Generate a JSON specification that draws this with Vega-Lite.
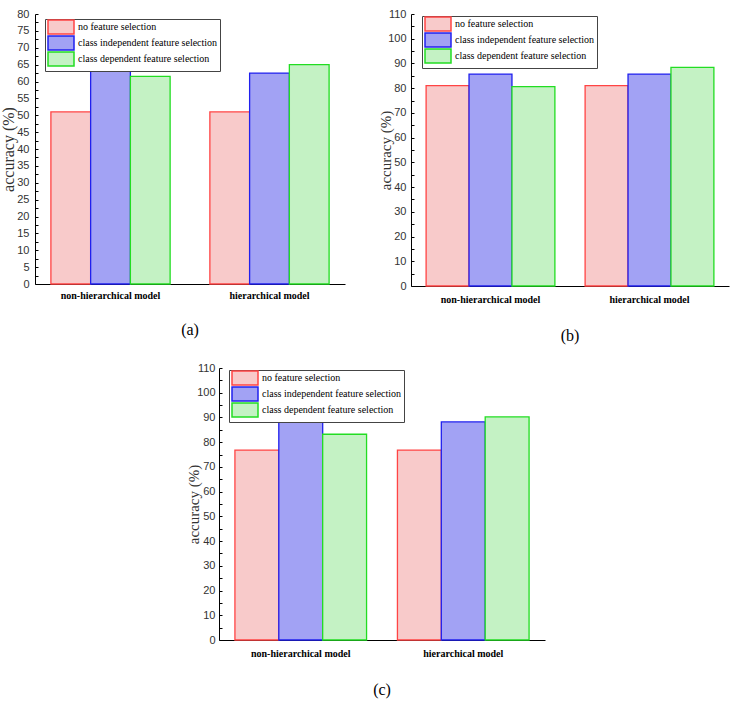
{
  "$schema": "https://vega.github.io/schema/vega-lite/v6.json",
  "padding": {"left": 0, "top": 8, "right": 1, "bottom": 4},
  "spacing": 18,
  "center": true,
  "resolve": {"scale": {"x": "independent", "xOffset": "independent", "fill": "independent", "stroke": "independent"}, "legend": {"fill": "independent", "stroke": "independent"}},
  "config": {
    "view": {"stroke": null},
    "axis": {"grid": false, "domainColor": "#000000", "domainWidth": 1},
    "legend": {
      "orient": "none",
      "strokeColor": "#444444",
      "strokeWidth": 1,
      "fillColor": "white",
      "padding": 2,
      "rowPadding": -4,
      "symbolType": "M-2.6,-1.4H2.6V1.4H-2.6Z",
      "symbolSize": 100,
      "symbolOffset": 8,
      "symbolStrokeWidth": 1.5,
      "labelFont": "Liberation Serif",
      "labelFontSize": 10,
      "labelColor": "#000000",
      "labelOffset": 11,
      "title": null
    },
    "title": {"font": "Liberation Serif", "fontSize": 16, "fontWeight": "normal", "color": "#000000"}
  },
  "vconcat": [
    {
      "hconcat": [
        {
          "width": 310,
          "height": 270,
          "title": {"text": "(a)", "orient": "bottom", "offset": 22, "anchor": "middle"},
          "data": {"values": [
            {"model": "non-hierarchical model", "series": "no feature selection", "accuracy": 51},
            {"model": "non-hierarchical model", "series": "class independent feature selection", "accuracy": 63},
            {"model": "non-hierarchical model", "series": "class dependent feature selection", "accuracy": 61.5},
            {"model": "hierarchical model", "series": "no feature selection", "accuracy": 51},
            {"model": "hierarchical model", "series": "class independent feature selection", "accuracy": 62.5},
            {"model": "hierarchical model", "series": "class dependent feature selection", "accuracy": 65}
          ]},
          "mark": {"type": "bar", "strokeWidth": 1.3},
          "encoding": {
            "x": {"field": "model", "type": "nominal", "sort": ["non-hierarchical model", "hierarchical model"],
              "scale": {"paddingInner": 0.25, "paddingOuter": 0.1},
              "axis": {"title": null, "ticks": false, "labelAngle": 0, "labelFont": "Liberation Serif", "labelFontWeight": "bold", "labelFontSize": 10, "labelColor": "#000000", "labelPadding": 6}},
            "xOffset": {"field": "series", "type": "nominal", "sort": ["no feature selection", "class independent feature selection", "class dependent feature selection"], "scale": {"paddingInner": 0, "paddingOuter": 0}},
            "y": {"field": "accuracy", "type": "quantitative", "scale": {"domain": [0, 80], "nice": false},
              "axis": {"title": "accuracy (%)", "values": [0,2.5,5,7.5,10,12.5,15,17.5,20,22.5,25,27.5,30,32.5,35,37.5,40,42.5,45,47.5,50,52.5,55,57.5,60,62.5,65,67.5,70,72.5,75,77.5,80],
                "labelExpr": "datum.value % 5 === 0 ? datum.label : ''", "tickSize": -3, "tickColor": "#000000", "labelPadding": 9,
                "labelFont": "Liberation Sans", "labelFontSize": 11, "labelColor": "#333333",
                "titleFont": "Liberation Serif", "titleFontSize": 16, "titleFontWeight": "normal", "titleColor": "#333333", "titlePadding": 0}},
            "fill": {"field": "series", "type": "nominal", "sort": ["no feature selection", "class independent feature selection", "class dependent feature selection"],
              "scale": {"range": ["#f8caca", "#a2a2f4", "#c4f2c4"]},
              "legend": {"legendX": 10, "legendY": 5, "encode": {"symbols": {"update": {
                "fill": {"signal": "datum.value === 'no feature selection' ? '#f8caca' : datum.value === 'class independent feature selection' ? '#a2a2f4' : '#c4f2c4'"},
                "stroke": {"signal": "datum.value === 'no feature selection' ? '#ff4444' : datum.value === 'class independent feature selection' ? '#2020ee' : '#22dd22'"}}}}}},
            "stroke": {"field": "series", "type": "nominal", "sort": ["no feature selection", "class independent feature selection", "class dependent feature selection"],
              "scale": {"range": ["#ff4444", "#2020ee", "#22dd22"]},
              "legend": null}
          }
        },
        {
          "width": 318,
          "height": 272,
          "title": {"text": "(b)", "orient": "bottom", "offset": 24, "anchor": "middle"},
          "data": {"values": [
            {"model": "non-hierarchical model", "series": "no feature selection", "accuracy": 81},
            {"model": "non-hierarchical model", "series": "class independent feature selection", "accuracy": 85.7},
            {"model": "non-hierarchical model", "series": "class dependent feature selection", "accuracy": 80.6},
            {"model": "hierarchical model", "series": "no feature selection", "accuracy": 81},
            {"model": "hierarchical model", "series": "class independent feature selection", "accuracy": 85.7},
            {"model": "hierarchical model", "series": "class dependent feature selection", "accuracy": 88.4}
          ]},
          "mark": {"type": "bar", "strokeWidth": 1.3},
          "encoding": {
            "x": {"field": "model", "type": "nominal", "sort": ["non-hierarchical model", "hierarchical model"],
              "scale": {"paddingInner": 0.19, "paddingOuter": 0.095},
              "axis": {"title": null, "ticks": false, "labelAngle": 0, "labelFont": "Liberation Serif", "labelFontWeight": "bold", "labelFontSize": 10, "labelColor": "#000000", "labelPadding": 8}},
            "xOffset": {"field": "series", "type": "nominal", "sort": ["no feature selection", "class independent feature selection", "class dependent feature selection"], "scale": {"paddingInner": 0, "paddingOuter": 0}},
            "y": {"field": "accuracy", "type": "quantitative", "scale": {"domain": [0, 110], "nice": false},
              "axis": {"title": "accuracy (%)", "values": [0,5,10,15,20,25,30,35,40,45,50,55,60,65,70,75,80,85,90,95,100,105,110],
                "labelExpr": "datum.value % 10 === 0 ? datum.label : ''", "tickSize": -3, "tickColor": "#000000", "labelPadding": 8,
                "labelFont": "Liberation Sans", "labelFontSize": 11, "labelColor": "#333333",
                "titleFont": "Liberation Serif", "titleFontSize": 15, "titleFontWeight": "normal", "titleColor": "#333333", "titlePadding": -6}},
            "fill": {"field": "series", "type": "nominal", "sort": ["no feature selection", "class independent feature selection", "class dependent feature selection"],
              "scale": {"range": ["#f8caca", "#a2a2f4", "#c4f2c4"]},
              "legend": {"legendX": 11, "legendY": 2, "encode": {"symbols": {"update": {
                "fill": {"signal": "datum.value === 'no feature selection' ? '#f8caca' : datum.value === 'class independent feature selection' ? '#a2a2f4' : '#c4f2c4'"},
                "stroke": {"signal": "datum.value === 'no feature selection' ? '#ff4444' : datum.value === 'class independent feature selection' ? '#2020ee' : '#22dd22'"}}}}}},
            "stroke": {"field": "series", "type": "nominal", "sort": ["no feature selection", "class independent feature selection", "class dependent feature selection"],
              "scale": {"range": ["#ff4444", "#2020ee", "#22dd22"]},
              "legend": null}
          }
        }
      ],
      "spacing": 33,
      "resolve": {"scale": {"x": "independent", "xOffset": "independent", "fill": "independent", "stroke": "independent"}, "legend": {"fill": "independent", "stroke": "independent"}}
    },
    {
      "width": 326,
      "height": 272,
      "title": {"text": "(c)", "orient": "bottom", "offset": 24, "anchor": "middle"},
      "data": {"values": [
        {"model": "non-hierarchical model", "series": "no feature selection", "accuracy": 76.8},
        {"model": "non-hierarchical model", "series": "class independent feature selection", "accuracy": 88},
        {"model": "non-hierarchical model", "series": "class dependent feature selection", "accuracy": 83.2},
        {"model": "hierarchical model", "series": "no feature selection", "accuracy": 76.8},
        {"model": "hierarchical model", "series": "class independent feature selection", "accuracy": 88.2},
        {"model": "hierarchical model", "series": "class dependent feature selection", "accuracy": 90.2}
      ]},
      "mark": {"type": "bar", "strokeWidth": 1.3},
      "encoding": {
        "x": {"field": "model", "type": "nominal", "sort": ["non-hierarchical model", "hierarchical model"],
          "scale": {"paddingInner": 0.19, "paddingOuter": 0.098},
          "axis": {"title": null, "ticks": false, "labelAngle": 0, "labelFont": "Liberation Serif", "labelFontWeight": "bold", "labelFontSize": 10, "labelColor": "#000000", "labelPadding": 8}},
        "xOffset": {"field": "series", "type": "nominal", "sort": ["no feature selection", "class independent feature selection", "class dependent feature selection"], "scale": {"paddingInner": 0, "paddingOuter": 0}},
        "y": {"field": "accuracy", "type": "quantitative", "scale": {"domain": [0, 110], "nice": false},
          "axis": {"title": "accuracy (%)", "values": [0,5,10,15,20,25,30,35,40,45,50,55,60,65,70,75,80,85,90,95,100,105,110],
            "labelExpr": "datum.value % 10 === 0 ? datum.label : ''", "tickSize": -3, "tickColor": "#000000", "labelPadding": 7,
            "labelFont": "Liberation Sans", "labelFontSize": 11, "labelColor": "#333333",
            "titleFont": "Liberation Serif", "titleFontSize": 15, "titleFontWeight": "normal", "titleColor": "#333333", "titlePadding": -5}},
        "fill": {"field": "series", "type": "nominal", "sort": ["no feature selection", "class independent feature selection", "class dependent feature selection"],
          "scale": {"range": ["#f8caca", "#a2a2f4", "#c4f2c4"]},
          "legend": {"legendX": 10, "legendY": 2, "encode": {"symbols": {"update": {
            "fill": {"signal": "datum.value === 'no feature selection' ? '#f8caca' : datum.value === 'class independent feature selection' ? '#a2a2f4' : '#c4f2c4'"},
            "stroke": {"signal": "datum.value === 'no feature selection' ? '#ff4444' : datum.value === 'class independent feature selection' ? '#2020ee' : '#22dd22'"}}}}}},
        "stroke": {"field": "series", "type": "nominal", "sort": ["no feature selection", "class independent feature selection", "class dependent feature selection"],
          "scale": {"range": ["#ff4444", "#2020ee", "#22dd22"]},
          "legend": null}
      }
    }
  ]
}
